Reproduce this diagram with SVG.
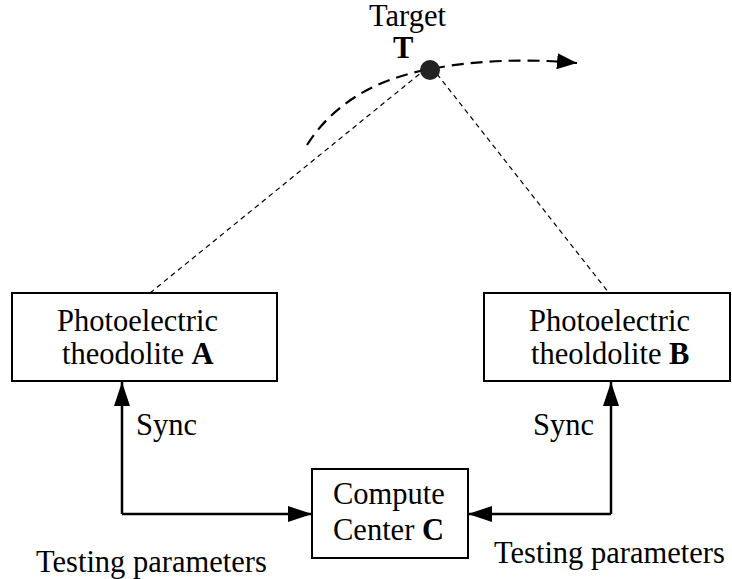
<svg xmlns="http://www.w3.org/2000/svg" width="732" height="579" viewBox="0 0 732 579" font-family="'Liberation Serif', 'Times New Roman', serif">
<style>
text{font-family:'Liberation Serif','Times New Roman',serif;font-size:30.5px;fill:#000}
.b{font-weight:bold}
.box{fill:#fff;stroke:#000;stroke-width:2}
.thin{fill:none;stroke:#000;stroke-width:1.2;stroke-dasharray:5 4}
.traj{fill:none;stroke:#000;stroke-width:2.2;stroke-dasharray:12 7}
.conn{fill:none;stroke:#000;stroke-width:2.5}
</style>
<defs>
<marker id="ah" viewBox="0 0 24 16" refX="24" refY="8" markerWidth="24" markerHeight="16" markerUnits="userSpaceOnUse" orient="auto">
<path d="M0,0 L24,8 L0,16 z" fill="#000"/>
</marker>
<marker id="ah2" viewBox="0 0 20 16" refX="20" refY="8" markerWidth="20" markerHeight="16" markerUnits="userSpaceOnUse" orient="auto">
<path d="M0,0 L20,8 L0,16 z" fill="#000"/>
</marker>
</defs>
<g id="connectors">
<path class="thin" d="M150,293 L422,72"/>
<path class="thin" d="M437,74 L609,293"/>
<path class="traj" d="M307,145 Q345,85 430,69 Q500,56 577,63" marker-end="url(#ah2)"/>
<path class="conn" d="M122,514 L122,382" marker-end="url(#ah)"/>
<path class="conn" d="M122,514 L312,514" marker-end="url(#ah)"/>
<path class="conn" d="M611,514 L611,382" marker-end="url(#ah)"/>
<path class="conn" d="M611,514 L468,514" marker-end="url(#ah)"/>
</g>
<g id="target">
<circle cx="430" cy="70" r="10" fill="#222"/>
<text x="369" y="26">Target</text>
<text class="b" x="393" y="58">T</text>
</g>
<g id="theodoliteA">
<rect class="box" x="12" y="293" width="265" height="88"/>
<text x="57" y="331">Photoelectric</text>
<text x="62" y="364">theodolite <tspan class="b">A</tspan></text>
</g>
<g id="theodoliteB">
<rect class="box" x="484" y="293" width="246" height="88"/>
<text x="529" y="331">Photoelectric</text>
<text x="531" y="364">theoldolite <tspan class="b">B</tspan></text>
</g>
<g id="computeC">
<rect class="box" x="312" y="469" width="156" height="89"/>
<text x="333" y="504">Compute</text>
<text x="333" y="540">Center <tspan class="b">C</tspan></text>
</g>
<g id="labels">
<text x="136" y="435">Sync</text>
<text x="533" y="435">Sync</text>
<text x="36" y="572">Testing parameters</text>
<text x="494" y="563">Testing parameters</text>
</g>
</svg>
